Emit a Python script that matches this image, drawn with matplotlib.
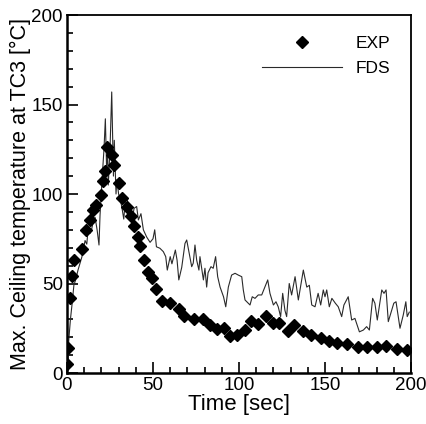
import matplotlib
matplotlib.use("Agg")
import matplotlib.pyplot as plt
from matplotlib.ticker import MultipleLocator

# EXP data (diamonds)
exp_t = [0, 0.8, 1.7, 3, 4, 9, 11, 13.4, 15.3, 17, 20, 21, 22, 23.5, 26, 27.3,
         30.4, 32, 35, 37, 39, 41, 42.4, 45, 47, 49.6, 52, 55, 60, 65, 68, 74,
         79, 83, 87, 91, 95, 99, 103.5, 107, 111, 115.7, 120, 123.4, 128.7, 132,
         137, 142, 147.5, 152.5, 157, 162.6, 169, 174.6, 180, 185.5, 191.7, 197.5]
exp_T = [5, 14, 42, 54, 63, 69, 80, 85.5, 91, 94, 99.5, 107, 113, 126, 122, 116,
         106, 98, 92.5, 87.7, 82, 76, 71, 63, 56.6, 53, 47, 40.4, 39, 36, 32, 30,
         30, 27, 24.4, 25, 20.7, 21, 24, 29, 27.4, 31.8, 27.7, 27.7, 23.6, 27,
         23.6, 21, 19.4, 18, 17, 16, 14.7, 14.7, 14.7, 15, 13.4, 12.8]

# FDS data (line)
fds_t = [0, 0.5, 1, 2, 3, 4, 5, 6.4, 8.7, 10.5, 11.5, 12.4, 13.4, 14.4, 15.3,
         16.3, 17.5, 18.6, 19.2, 20.5, 21.5, 22.3, 23, 23.5, 24, 25, 26, 27,
         27.5, 28.5, 29, 30, 31, 32, 33, 34, 35, 36, 37.8, 39, 40.5, 41.5, 43,
         44.4, 46.3, 48.3, 50, 51, 52, 54, 56, 57.4, 58.3, 60, 61, 63, 64, 65,
         66.7, 68.6, 69.6, 71, 72.5, 73.4, 74.4, 75.4, 76.7, 77.3, 79.3, 80.2,
         81.2, 82, 83.7, 85, 86.4, 87.6, 89, 91, 92.3, 93.8, 95.7, 97.7, 99.6,
         101.6, 102.5, 103.5, 106.4, 107.7, 109.3, 111.2, 113.2, 115, 116.7,
         118, 120, 121.5, 122.8, 124.2, 125.4, 126.7, 127.7, 129.2, 130.6,
         132.6, 134.5, 137.4, 139.4, 140.9, 142.3, 144.2, 146, 147.5, 149, 150,
         151, 152.5, 154, 156, 157.7, 159.7, 161, 163.5, 165.5, 167.4, 170,
         172.3, 174.2, 175.8, 177.7, 179, 180.4, 183, 184.3, 185.5, 186.8, 190,
         191.3, 193.6, 195.5, 197, 197.8, 199]
fds_T = [0, 2, 18, 30, 39, 49, 52, 57.5, 65, 74, 72, 81.6, 78, 80.6, 85,
         87, 80, 71.5, 88, 110, 125, 142, 115, 128, 105, 125, 157, 110,
         130, 100, 108, 100, 97, 92, 86, 97, 97, 90, 85, 92, 93, 85.5, 89,
         80, 76, 73, 75, 80, 70.5, 69.7, 67.8, 65, 57.5, 65, 61, 68.7, 63, 52,
         59, 72.4, 74.3, 67, 59.4, 61.4, 71.5, 63, 57.5, 65, 52, 58.5,
         48, 56, 59.4, 58.5, 65, 53.8, 48, 42.6, 37, 48, 54.7, 55.7, 54.7,
         53.8, 46.4, 40.8, 38, 42.6, 41.7, 43.6, 43.6, 48, 52,
         44.5, 38, 39.8, 37, 31.5, 44.5, 35, 31.5, 50, 43.6,
         53.8, 40.8, 57.5, 48, 49, 38, 37, 44.5, 38, 46.4, 42.6,
         46.4, 37, 41.7, 39, 37, 31.5, 38, 42.6, 29.6, 30.5, 23,
         24, 25.9, 24, 41.7, 39, 29.6, 46.4, 44.5, 46.4, 28.7, 39,
         39.8, 25, 32.4, 39.8, 31.5, 34]

plt.rcParams['font.family'] = ['Liberation Sans', 'DejaVu Sans']

fig = plt.figure(figsize=(4.26, 4.24), dpi=100)
ax = fig.add_axes([67/426, 1 - 373/424, (411-67)/426, (373-15)/424])

ax.plot(exp_t, exp_T, linestyle='none', marker='D', color='black',
        markersize=5.7, label='EXP', zorder=3)
ax.plot(fds_t, fds_T, color='#2a2a2a', lw=0.8, label='FDS', zorder=2)

ax.set_xlim(0, 200)
ax.set_ylim(0, 200)
ax.xaxis.set_major_locator(MultipleLocator(50))
ax.xaxis.set_minor_locator(MultipleLocator(10))
ax.yaxis.set_major_locator(MultipleLocator(50))
ax.yaxis.set_minor_locator(MultipleLocator(10))
ax.tick_params(which='both', direction='in', top=False, right=False,
               labelsize=13.5, width=1.2)
ax.tick_params(which='major', length=8)
ax.tick_params(axis='y', which='major', pad=3)
ax.tick_params(axis='x', which='major', pad=3)
ax.tick_params(which='minor', length=4.5)

for s in ['left', 'bottom']:
    ax.spines[s].set_linewidth(1.8)
for s in ['top', 'right']:
    ax.spines[s].set_linewidth(1.3)

ax.set_xlabel('Time [sec]', fontsize=16, labelpad=0)
ax.set_ylabel('Max. Ceiling temperature at TC3 [°C]', fontsize=15.5, labelpad=0)

leg = ax.legend(loc='upper right', frameon=False, fontsize=12.5,
                handlelength=4.6, handletextpad=0.8, labelspacing=0.55,
                bbox_to_anchor=(0.96, 0.96), borderaxespad=0)

fig.savefig('out.png', dpi=100)
